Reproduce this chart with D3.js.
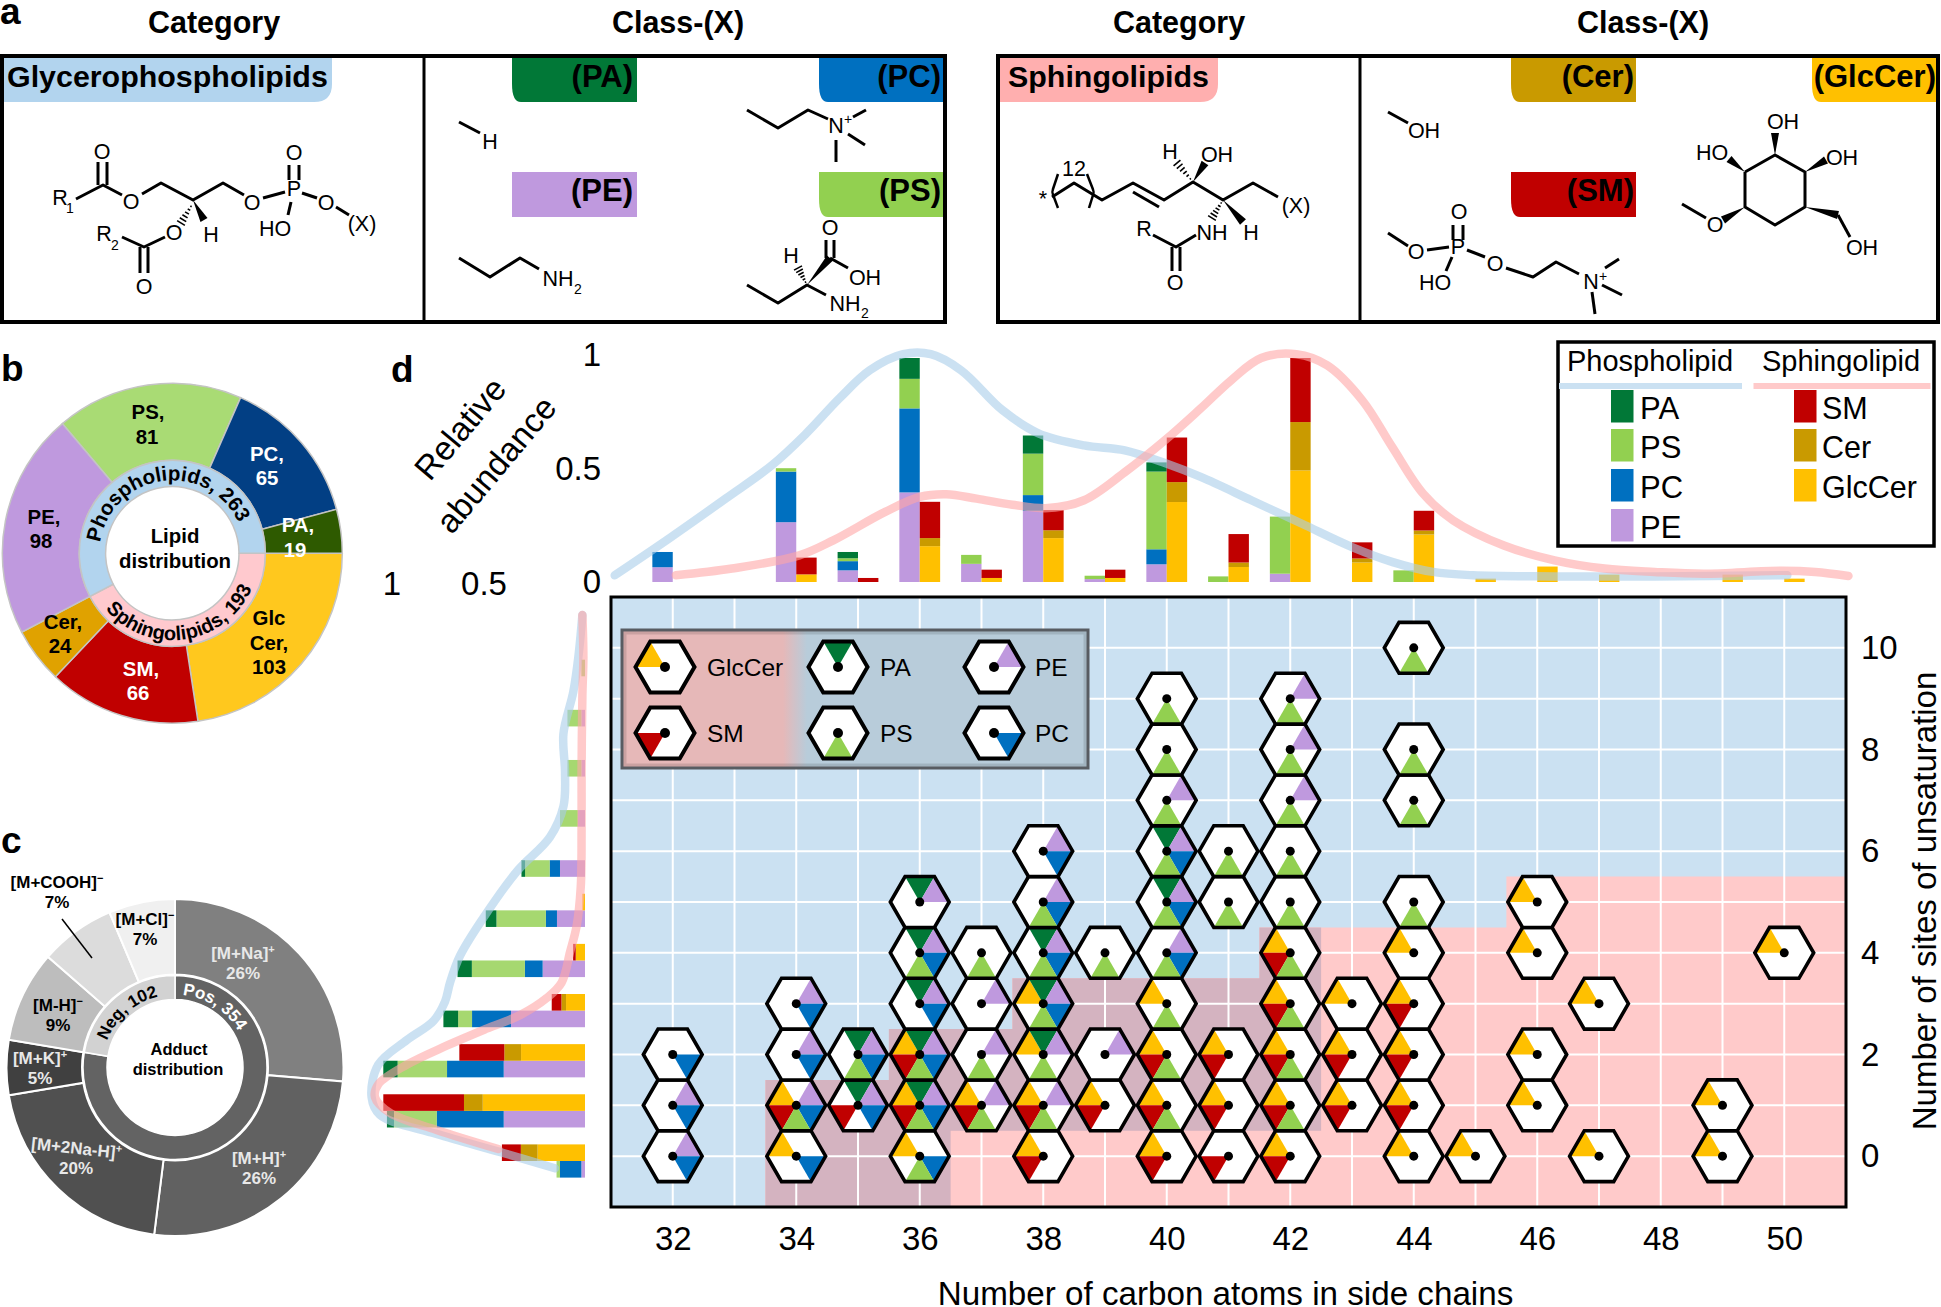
<!DOCTYPE html>
<html><head><meta charset="utf-8">
<script src="https://cdnjs.cloudflare.com/ajax/libs/d3/7.8.5/d3.min.js"></script>
<style>html,body{margin:0;background:#fff}svg{display:block}text{font-family:"Liberation Sans",Arial,sans-serif;fill:#000}</style>
</head><body><svg id="c" width="1941" height="1307"></svg>
<script>
// ---------- DATA ----------
const classColors = {G:"#ffc000",S:"#c00000",A:"#017837",E:"#bf99de",C:"#0070c0",P:"#92d050",Ce:"#c99a00"};
// panel b
const lipidNames = ["GlcCer","SM","Cer","PE","PS","PC","PA"];
const lipidCounts = [103,66,24,98,81,65,19];
const lipidFill = ["#ffc81e","#c00000","#e0a200","#bf99de","#a9db74","#023f84","#2e5a00"];
const lipidGroupCounts = [193,263];
const lipidGroupFill = ["#ffc9ce","#b2d4ee"];
// panel c
const adductCounts = [120,117,93,24,40,33,29];
const adductFill = ["#808080","#616161","#505050","#404040","#bdbdbd","#dcdcdc","#f0f0f0"];
const adductGroupCounts = [354,102];
const adductGroupFill = ["#636363","#d2d2d2"];
// panel d, hexagons: [carbons, classes present] per unsaturation row
const hexRow0 = [[32,"EC"],[34,"GC"],[36,"GCP"],[38,"GS"],[40,"GS"],[41,"S"],[42,"GS"],[44,"G"],[45,"G"],[47,"G"],[49,"G"]];
const hexRow1 = [[32,"EC"],[34,"GESCP"],[35,"AESC"],[36,"GAESCP"],[37,"GESP"],[38,"GESP"],[39,"GS"],[40,"GSP"],[41,"GS"],[42,"GSP"],[43,"GS"],[44,"GS"],[46,"G"],[49,"G"]];
const hexRow2 = [[32,"C"],[34,"EC"],[35,"AECP"],[36,"GAESCP"],[37,"EP"],[38,"GAEP"],[39,"E"],[40,"GSP"],[41,"GS"],[42,"GSP"],[43,"GS"],[44,"GS"],[46,"G"]];
const hexRow3 = [[34,"EC"],[36,"AEC"],[37,"E"],[38,"GAECP"],[40,"GP"],[42,"GSP"],[43,"G"],[44,"GS"],[47,"G"]];
const hexRow4 = [[36,"AECP"],[37,"P"],[38,"AECP"],[39,"P"],[40,"ECP"],[42,"GSP"],[44,"G"],[46,"G"],[50,"G"]];
const hexRow5 = [[36,"AE"],[38,"ECP"],[40,"AECP"],[41,"P"],[42,"P"],[44,"P"],[46,"G"]];
const hexRow6 = [[38,"EC"],[40,"AECP"],[41,"P"],[42,"P"]];
const hexRow7 = [[40,"EP"],[42,"EP"],[44,"P"]];
const hexRow8 = [[40,"P"],[42,"EP"],[44,"P"]];
const hexRow9 = [[40,"P"],[42,"EP"]];
const hexRow10 = [[44,"P"]];
const hexRows = [hexRow0,hexRow1,hexRow2,hexRow3,hexRow4,hexRow5,hexRow6,hexRow7,hexRow8,hexRow9,hexRow10];
// background regions in (carbons, unsaturation)
const sphingoRegion = [[51,5.5],[45.5,5.5],[45.5,4.5],[41.5,4.5],[41.5,3.5],[37.5,3.5],[37.5,2.5],[35.5,2.5],[35.5,1.5],[33.5,1.5],[33.5,-1],[51,-1]];
const overlapRegion = [[42.5,4.5],[41.5,4.5],[41.5,3.5],[37.5,3.5],[37.5,2.5],[35.5,2.5],[35.5,1.5],[33.5,1.5],[33.5,-1],[36.5,-1],[36.5,.5],[42.5,.5]];
// top bars
const topCarbons = [32,34,35,36,37,38,39,40,41,42,43,44,45,46,47,49,50];
const topPE  = [.066,.267,.052,.40,.081,.318,.013,.079,0,.037,0,0,0,0,0,0,0];
const topPC  = [.068,.226,.041,.375,0,.07,0,.067,0,0,0,0,0,0,0,0,0];
const topPS  = [0,.015,.013,.132,.04,.185,.015,.347,.025,.255,0,.052,0,0,0,0,0];
const topPA  = [0,0,.028,.093,0,.081,0,.041,0,0,0,0,0,0,0,0,0];
const topGlc = [0,.034,0,.16,.018,.196,.018,.357,.067,.498,.087,.212,.015,.069,.033,.033,.015];
const topCer = [0,0,0,.036,0,.035,0,.089,.02,.216,.018,.018,0,0,0,0,0];
const topSM  = [0,.075,.018,.162,.037,.09,.037,.199,.127,.286,.072,.088,0,0,0,0,0];
const topBlue = [[31.06,.03],[31.97,.20],[32.87,.375],[33.6,.52],[34.15,.66],[34.7,.82],[35.19,.945],[35.73,1.017],[36.18,1.017],[36.67,.945],[37.34,.767],[37.92,.664],[38.66,.61],[39.32,.588],[39.98,.53],[40.55,.469],[41.37,.365],[42.19,.26],[43,.156],[43.66,.089],[44.31,.045],[44.96,.03],[46.28,.025],[47.9,.025],[50.05,.03]];
const topPink = [[32.05,.03],[32.96,.06],[34.05,.119],[34.6,.186],[35.44,.313],[36,.38],[36.43,.392],[36.92,.372],[37.5,.345],[38.08,.33],[38.66,.365],[39.32,.49],[39.98,.635],[40.55,.775],[41.04,.9],[41.53,1],[42.1,1.017],[42.6,.967],[43.17,.81],[43.65,.603],[44.15,.395],[44.64,.275],[45.46,.163],[46.28,.097],[47.09,.06],[47.9,.045],[48.7,.037],[49.93,.05],[50.5,.045],[51.04,.027]];
// left bars
const leftRows = [0,1,2,3,4,5,6,7,8,9,10];
const leftPE  = [.018,.403,.403,.367,.21,.139,.124,.035,.018,.018,0];
const leftPC  = [.106,.332,.281,.193,.088,.055,.051,0,0,0,0];
const leftPS  = [.017,.212,.245,.069,.263,.245,.122,.089,.069,.069,.018];
const leftPA  = [0,.035,.071,.073,.071,.053,.018,0,0,0,0];
const leftGlc = [.235,.507,.317,.094,.046,.013,0,0,0,0,0];
const leftCer = [.083,.093,.083,.023,0,0,0,0,0,0,0];
const leftSM  = [.094,.4,.223,.048,.013,0,0,0,0,0,0];
const leftBlue = [[.149,-.145],[.405,.16],[.736,.54],[1.017,.92],[1.058,1.27],[1.025,1.92],[.884,2.41],[.752,2.79],[.694,3.18],[.669,3.56],[.62,4.09],[.504,4.85],[.339,5.77],[.174,6.46],[.107,7.07],[.099,7.76],[.107,8.52],[.058,9.36],[.033,10.05],[.013,10.89]];
const leftPink = [[.43,.24],[.736,.62],[.967,.96],[1.041,1.27],[1.025,1.53],[.884,1.92],[.686,2.3],[.488,2.64],[.322,2.91],[.19,3.25],[.116,3.56],[.074,4.17],[.041,4.7],[.021,5.47],[.017,6.6],[.017,7.76],[.013,9.28],[.008,10.05],[.013,10.89]];
// tick labels
const xTicks = [32,34,36,38,40,42,44,46,48,50];
const yTicks = [0,2,4,6,8,10];
const abundanceTicks = [0,.5,1];

// ---------- HELPERS ----------
const svg = d3.select("#c");
const deg = Math.PI/180;
function T(p,x,y,s,o={}){
  const t=p.append("text").attr("x",x).attr("y",y).text(s)
    .attr("font-size",o.fs||22).attr("text-anchor",o.a||"middle");
  if(o.b)t.attr("font-weight","bold");
  if(o.c)t.style("fill",o.c);
  if(o.tr)t.attr("transform",o.tr);
  return t;
}
function Tc(p,x,y,s,o={}){return T(p,x,y+(o.fs||22)*.36,s,o)}
function arcPathStr(cx,cy,r,a0,a1){
  const d=d3.path();
  d.arc(cx,cy,r,(a0-90)*deg,(a1-90)*deg,a1<a0);
  return d.toString();
}
function curvedText(p,id,cx,cy,r,a0,a1,s,fs,col){
  svg.select("defs").append("path").attr("id",id).attr("d",arcPathStr(cx,cy,r,a0,a1));
  p.append("text").attr("font-size",fs).attr("font-weight","bold").style("fill",col||"#000")
   .append("textPath").attr("href","#"+id).attr("startOffset","50%").attr("text-anchor","middle").text(s);
}
svg.append("defs");
// ---------- PANEL A ----------
const A = svg.append("g");
T(A,0,24,"a",{fs:37,b:1,a:"start"});
[[214,"Category"],[678,"Class-(X)"],[1179,"Category"],[1643,"Class-(X)"]].forEach(d=>T(A,d[0],33,d[1],{fs:30.5,b:1}));
function tag(x0,x1,y0,y1,col,corner){
  const r=18,d=d3.path();
  if(corner==="r"){d.moveTo(x0,y0);d.lineTo(x1,y0);d.lineTo(x1,y1-r);d.quadraticCurveTo(x1,y1,x1-r,y1);d.lineTo(x0,y1);}
  else if(corner==="l"){d.moveTo(x0,y0);d.lineTo(x1,y0);d.lineTo(x1,y1);d.lineTo(x0+r*.5,y1);d.quadraticCurveTo(x0,y1,x0,y1-r);}
  else {d.rect(x0,y0,x1-x0,y1-y0);}
  d.closePath();
  A.append("path").attr("d",d.toString()).style("fill",col);
}
const tagList=[[3,332,58,102,"#b2d4ee","r","Glycerophospholipids",7,"start",30.4],
 [512,637,58,102,"#017837","l","(PA)",633,"end",31],[819,943,58,102,"#0070c0","l","(PC)",941,"end",31],
 [512,637,172,217,"#bf99de","n","(PE)",633,"end",31],[819,943,172,217,"#92d050","l","(PS)",941,"end",31],
 [1000,1218,58,102,"#ffafaf","r","Sphingolipids",1008,"start",30.4],
 [1511,1636,58,102,"#c99a00","l","(Cer)",1634,"end",31],[1812,1938,58,102,"#ffc000","l","(GlcCer)",1936,"end",31],
 [1511,1636,172,217,"#c00000","l","(SM)",1634,"end",31]];
tagList.forEach(t=>{tag(t[0],t[1],t[2],t[3],t[4],t[5]);T(A,t[7],t[2]+29,t[6],{fs:t[9],b:1,a:t[8]});});
[[2,56,943,266],[998,56,940,266]].forEach(b=>A.append("rect").attr("x",b[0]).attr("y",b[1]).attr("width",b[2]).attr("height",b[3]).style("fill","none").style("stroke","#000").attr("stroke-width",4));
[424,1360].forEach(x=>A.append("line").attr("x1",x).attr("x2",x).attr("y1",56).attr("y2",322).style("stroke","#000").attr("stroke-width",3));
function bonds(list){list.forEach(l=>{A.append("polyline").attr("points",l.map(p=>p.join(",")).join(" ")).style("fill","none").style("stroke","#000").attr("stroke-width",3).attr("stroke-linejoin","round").attr("stroke-linecap","butt")})}
function wedge(x1,y1,x2,y2){const dx=x2-x1,dy=y2-y1,L=Math.hypot(dx,dy),nx=-dy/L*4,ny=dx/L*4;A.append("polygon").attr("points",`${x1},${y1} ${x2+nx},${y2+ny} ${x2-nx},${y2-ny}`).style("fill","#000")}
function hash(x1,y1,x2,y2){const dx=x2-x1,dy=y2-y1,L=Math.hypot(dx,dy),nx=-dy/L,ny=dx/L;for(let i=1;i<=6;i++){const f=i/6,w=f*4.5;A.append("line").attr("x1",x1+dx*f+nx*w).attr("y1",y1+dy*f+ny*w).attr("x2",x1+dx*f-nx*w).attr("y2",y1+dy*f-ny*w).style("stroke","#000").attr("stroke-width",1.6)}}
const chemLabels=[[60,197,"R"],[70,208,"1",14],[102,151,"O"],[131,201,"O"],[252,202,"O"],[294,188,"P"],[294,152,"O"],[326,202,"O"],[362,223,"(X)"],[275,228,"HO"],[211,234,"H"],[174,232,"O"],[144,286,"O"],[104,233,"R"],[115,245,"2",14],
 [490,141,"H"],[836,125,"N"],[848,119,"+",14],[558,278,"NH"],[578,289,"2",14],[830,227,"O"],[865,277,"OH"],[791,255,"H"],[845,303,"NH"],[865,313,"2",14],
 [1043,198,"*"],[1074,168,"12"],[1296,205,"(X)"],[1217,154,"OH"],[1170,151,"H"],[1251,232,"H"],[1212,232,"NH"],[1144,228,"R"],[1175,282,"O"],
 [1424,130,"OH"],[1783,121,"OH"],[1712,152,"HO"],[1842,157,"OH"],[1715,224,"O"],[1862,247,"OH"],
 [1416,251,"O"],[1458,246,"P"],[1459,211,"O"],[1495,263,"O"],[1591,281,"N"],[1603,276,"+",14],[1435,282,"HO"]];
chemLabels.forEach(l=>Tc(A,l[0],l[1],l[2],{fs:l[3]||21.5}));
bonds([
 [[76,199],[103,185],[122,195]],[[98,185],[98,162]],[[107,185],[107,162]],[[142,194],[161,183],[193,200],[223,183],[244,195]],
 [[263,198],[285,192]],[[289,180],[289,165]],[[299,180],[299,165]],[[302,193],[317,198]],[[336,207],[349,215]],[[291,202],[288,215]],
 [[165,237],[144,247],[122,237]],[[140,247],[140,273]],[[148,247],[148,273]],
 [[459,122],[480,133]],[[747,110],[778,128],[808,110],[828,119]],[[853,117],[866,110]],[[848,134],[865,145]],[[836,140],[836,162]],
 [[459,258],[490,277],[520,258],[539,269]],[[747,285],[778,303],[807,285],[826,295]],[[826,258],[826,240]],[[834,258],[834,240]],[[830,258],[848,268]],
 [[1052,197],[1074,183],[1102,200],[1133,183],[1164,200],[1193,182],[1223,200],[1253,183],[1278,197]],[[1133,192],[1159,207]],
 [[1196,235],[1176,247],[1153,235]],[[1172,247],[1172,271]],[[1180,247],[1180,271]],
 [[1388,112],[1408,123]],[[1745,172],[1775,155],[1805,172],[1805,207],[1775,225],[1745,207],[1745,172]],[[1706,218],[1682,204]],[[1838,215],[1850,237]],
 [[1388,233],[1408,246]],[[1427,250],[1449,247]],[[1453,240],[1453,225]],[[1463,240],[1463,225]],[[1467,250],[1485,257]],[[1506,268],[1533,277],[1556,262],[1579,274]],[[1605,268],[1619,259]],[[1602,285],[1622,295]],[[1592,292],[1595,314]],[[1452,257],[1446,271]]
]);
[[193,200,204,220],[807,285,830,258],[1193,182,1205,163],[1223,200,1243,222],[1775,155,1775,133],[1745,172,1729,159],[1805,172,1826,160],[1745,207,1723,220],[1805,207,1838,215]].forEach(w=>wedge(...w));
[[193,203,181,223],[807,285,798,268],[1193,182,1177,163],[1223,200,1212,218]].forEach(w=>hash(...w));
[[[1058,174],[1052,192],[1058,208]],[[1087,174],[1094,192],[1089,208]]].forEach(b=>A.append("path").attr("d",d3.line().curve(d3.curveBasis)([b[0],b[1],b[1],b[2]])).style("fill","none").style("stroke","#000").attr("stroke-width",2.5));

// ---------- PANEL B ----------
const B = svg.append("g");
T(B,1,381,"b",{fs:37,b:1,a:"start"});
const bc=[172.3,553.3];
const gB=B.append("g").attr("transform",`translate(${bc})`);
const pieB=d3.pie().sort(null).startAngle(Math.PI/2).endAngle(Math.PI/2+2*Math.PI);
gB.selectAll(".o").data(pieB(lipidCounts)).join("path").attr("d",d3.arc().innerRadius(93).outerRadius(170))
  .style("fill",(d,i)=>lipidFill[i]).style("stroke","#c4c4c4").attr("stroke-width",1.5);
gB.selectAll(".i").data(pieB(lipidGroupCounts)).join("path").attr("d",d3.arc().innerRadius(66.7).outerRadius(93))
  .style("fill",(d,i)=>lipidGroupFill[i]).style("stroke","#c4c4c4").attr("stroke-width",1.5);
const lipidLabels=[[148,412,"PS,"],[147,437,"81"],[267,454,"PC,","#fff"],[267,478,"65","#fff"],[298,525,"PA,","#fff"],[295,550,"19","#fff"],[44,517,"PE,"],[41,541,"98"],[63,622,"Cer,"],[60,646,"24"],[141,669,"SM,","#fff"],[138,693,"66","#fff"],[269,618,"Glc"],[269,643,"Cer,"],[269,667,"103"],[175,536,"Lipid"],[175,561,"distribution"]];
lipidLabels.forEach(l=>Tc(B,l[0],l[1],l[2],{fs:20.4,b:1,c:l[3]}));
curvedText(B,"arcP",bc[0],bc[1],73,-77,61,"Phospholipids, 263",20.5);
curvedText(B,"arcS",bc[0],bc[1],87,237,107,"Sphingolipids, 193",20);

// ---------- PANEL C ----------
const Cc = svg.append("g");
T(Cc,1,853,"c",{fs:37,b:1,a:"start"});
const cc=[175,1067.5];
const gC=Cc.append("g").attr("transform",`translate(${cc})`);
const pieC=d3.pie().sort(null);
gC.selectAll(".o").data(pieC(adductCounts)).join("path").attr("d",d3.arc().innerRadius(93).outerRadius(168.5))
  .style("fill",(d,i)=>adductFill[i]).style("stroke","#fff").attr("stroke-width",2);
gC.selectAll(".i").data(pieC(adductGroupCounts)).join("path").attr("d",d3.arc().innerRadius(68).outerRadius(92))
  .style("fill",(d,i)=>adductGroupFill[i]).style("stroke","#fff").attr("stroke-width",1.5);
function adduct(x,y,s,sup,pct,col,rot){
  const tr=rot?`rotate(${rot} ${x} ${y})`:null;
  const t=T(Cc,x,y,s,{fs:17,b:1,c:col,tr});
  t.append("tspan").attr("dy",-6).attr("font-size",11).text(sup);
  T(Cc,x,y+20,pct,{fs:17,b:1,c:col});
}
adduct(243,959,"[M+Na]","+","26%","#e8e8e8");
adduct(259,1164,"[M+H]","+","26%","#e8e8e8");
adduct(76,1154,"[M+2Na-H]","+","20%","#e8e8e8",6);
adduct(40,1064,"[M+K]","+","5%","#e8e8e8");
adduct(58,1011,"[M-H]","−","9%","#000");
adduct(145,925,"[M+Cl]","−","7%","#000");
adduct(57,888,"[M+COOH]","−","7%","#000");
Cc.append("line").attr("x1",62).attr("y1",919).attr("x2",92).attr("y2",958).style("stroke","#000").attr("stroke-width",1.5);
curvedText(Cc,"arcPos",cc[0],cc[1],73,8,58,"Pos, 354",17,"#fff");
curvedText(Cc,"arcNeg",cc[0],cc[1],73,-68,-14,"Neg, 102",17);
Tc(Cc,179,1049,"Adduct",{fs:16.5,b:1});Tc(Cc,178,1069,"distribution",{fs:16.5,b:1});

// ---------- PANEL D ----------
const D = svg.append("g");
T(D,391,382,"d",{fs:37,b:1,a:"start"});
const x = d3.scaleLinear().domain([31,51]).range([611,1846]);
const y = d3.scaleLinear().domain([-1,11]).range([1207,597]);
const topY = d3.scaleLinear().domain([0,1]).range([582,358]);
const topLabelBase = d3.scaleLinear().domain([0,1]).range([593.4,365.7]);
const leftX = d3.scaleLinear().domain([0,1]).range([585,383.3]);
const rowY = d3.scaleLinear().domain([0,10]).range([1161,659.7]);
const barW=20.4, barH=16.6;
// regions
const polyLine=d3.line().x(d=>x(d[0])).y(d=>y(d[1]));
D.append("rect").attr("x",x(31)).attr("y",y(11)).attr("width",x(51)-x(31)).attr("height",y(-1)-y(11)).style("fill","#cbe1f2");
D.append("path").attr("d",polyLine(sphingoRegion)+"Z").style("fill","#ffcaca");
D.append("path").attr("d",polyLine(overlapRegion)+"Z").style("fill","#d4b3c0");
d3.range(31,52).forEach(c=>D.append("line").attr("x1",x(c)).attr("x2",x(c)).attr("y1",y(-1)).attr("y2",y(11)).style("stroke","#fff").attr("stroke-width",2));
d3.range(0,11).forEach(u=>D.append("line").attr("x1",x(31)).attr("x2",x(51)).attr("y1",y(u)).attr("y2",y(u)).style("stroke","#fff").attr("stroke-width",2));
// hexagon glyphs: order of sides around the centre
const sectorOrder={G:[180,240],A:[240,300],E:[300,360],C:[0,60],P:[60,120],S:[120,180]};
function drawHex(p,cx,cy,R,sw,cls,dot){
  const g=p.append("g").attr("transform",`translate(${cx},${cy})`);
  const pts=d3.range(6).map(i=>[R*Math.cos(i*60*deg),R*Math.sin(i*60*deg)]);
  g.append("polygon").attr("points",pts.map(q=>q.join(",")).join(" ")).style("fill","#fff");
  cls.split("").forEach(k=>{
    const a=sectorOrder[k];
    g.append("polygon").attr("points",`0,0 ${R*Math.cos(a[0]*deg)},${R*Math.sin(a[0]*deg)} ${R*Math.cos(a[1]*deg)},${R*Math.sin(a[1]*deg)}`).style("fill",classColors[k]);
  });
  g.append("polygon").attr("points",pts.map(q=>q.join(",")).join(" ")).style("fill","none").style("stroke","#000").attr("stroke-width",sw);
  g.append("circle").attr("r",dot).style("fill","#000");
}
hexRows.forEach((row,u)=>row.forEach(d=>drawHex(D,x(d[0]),y(u),29.4,3.6,d[1],4.5)));
// inner legend
const grad=svg.select("defs").append("linearGradient").attr("id","lg").attr("gradientUnits","userSpaceOnUse").attr("x1",783).attr("x2",807).attr("y1",0).attr("y2",0);
grad.append("stop").attr("offset",0).attr("stop-color","#e6b8b8");grad.append("stop").attr("offset",1).attr("stop-color","#b8ccda");
D.append("rect").attr("x",622).attr("y",630).attr("width",466).attr("height",138).style("fill","url(#lg)").style("stroke","#585c62").attr("stroke-width",3);
D.append("rect").attr("x",625).attr("y",633).attr("width",460).attr("height",132).style("fill","none").style("stroke","#000").style("stroke-opacity",.12).attr("stroke-width",3);
const legendHex=[[665,667,"G","GlcCer",707],[665,733,"S","SM",707],[838,667,"A","PA",880],[838,733,"P","PS",880],[994,667,"E","PE",1035],[994,733,"C","PC",1035]];
legendHex.forEach(l=>{drawHex(D,l[0],l[1],29.5,4,l[2],5);Tc(D,l[4],l[1],l[3],{fs:24.5,a:"start"});});
// axes
const axB=D.append("g").attr("transform",`translate(0,${y(-1)})`).call(d3.axisBottom(x).tickValues(xTicks).tickSize(0).tickPadding(20));
const axR=D.append("g").attr("transform",`translate(${x(51)},0)`).call(d3.axisRight(y).tickValues(yTicks).tickSize(0).tickPadding(15));
[axB,axR].forEach(a=>{a.select(".domain").remove();a.selectAll("text").attr("font-size",33).style("font-family",'"Liberation Sans"');});
D.append("rect").attr("x",x(31)).attr("y",y(11)).attr("width",x(51)-x(31)).attr("height",y(-1)-y(11)).style("fill","none").style("stroke","#000").attr("stroke-width",3);
T(D,1225.5,1305,"Number of carbon atoms in side chains",{fs:33.2});
T(D,0,0,"Number of sites of unsaturation",{fs:33,tr:"translate(1936,901) rotate(-90)"});
T(D,0,0,"Relative",{fs:33.5,tr:"translate(469,436) rotate(-50)"});
T(D,0,0,"abundance",{fs:33.5,tr:"translate(505,472) rotate(-50)"});
abundanceTicks.forEach(v=>T(D,601,topLabelBase(v),v,{fs:33,a:"end"}));
Tc(D,392,583,"1",{fs:33});Tc(D,484,583,"0.5",{fs:33});
// top stacked bars
const stackCols=(names,cols)=>topCarbons.map((c,i)=>{const o={c};names.forEach((n,j)=>o[n]=cols[j][i]);return o;});
const plKeys=["E","C","P","A"], slKeys=["G","Ce","S"];
const stack=k=>d3.stack().keys(k);
const topPL=stackCols(plKeys,[topPE,topPC,topPS,topPA]), topSL=stackCols(slKeys,[topGlc,topCer,topSM]);
const topG=D.append("g");
stack(plKeys)(topPL).forEach(s=>topG.append("g").selectAll("rect").data(s).join("rect")
  .attr("x",d=>x(d.data.c)-barW).attr("width",barW).attr("y",d=>topY(d[1])).attr("height",d=>topY(d[0])-topY(d[1])).style("fill",classColors[s.key]));
stack(slKeys)(topSL).forEach(s=>topG.append("g").selectAll("rect").data(s).join("rect")
  .attr("x",d=>x(d.data.c)).attr("width",barW).attr("y",d=>topY(d[1])).attr("height",d=>topY(d[0])-topY(d[1])).style("fill",classColors[s.key]));
// left stacked bars
const leftCols=(names,cols)=>leftRows.map((r,i)=>{const o={r};names.forEach((n,j)=>o[n]=cols[j][i]);return o;});
const lPL=leftCols(plKeys,[leftPE,leftPC,leftPS,leftPA]), lSL=leftCols(slKeys,[leftGlc,leftCer,leftSM]);
stack(plKeys)(lPL).forEach(s=>topG.append("g").selectAll("rect").data(s).join("rect")
  .attr("y",d=>rowY(d.data.r)).attr("height",barH).attr("x",d=>leftX(d[1])).attr("width",d=>leftX(d[0])-leftX(d[1])).style("fill",classColors[s.key]).style("fill-opacity",s.key==="P"?.82:1));
stack(slKeys)(lSL).forEach(s=>topG.append("g").selectAll("rect").data(s).join("rect")
  .attr("y",d=>rowY(d.data.r)-barH).attr("height",barH).attr("x",d=>leftX(d[1])).attr("width",d=>leftX(d[0])-leftX(d[1])).style("fill",classColors[s.key]));
// density curves
const lineTop=d3.line().x(d=>x(d[0])).y(d=>topY(d[1])).curve(d3.curveCatmullRom.alpha(.5));
const lineLeft=d3.line().x(d=>leftX(d[0])).y(d=>rowY(d[1])).curve(d3.curveCatmullRom.alpha(.5));
const curveStyle=(p,col)=>p.style("fill","none").style("stroke",col).style("stroke-opacity",.6).attr("stroke-width",8.5).attr("stroke-linecap","round").attr("stroke-linejoin","round");
curveStyle(D.append("path").attr("d",lineTop(topBlue)),"#a8cde9");
curveStyle(D.append("path").attr("d",lineTop(topPink)),"#ffa7a7");
curveStyle(D.append("path").attr("d",lineLeft(leftBlue)),"#a8cde9");
curveStyle(D.append("path").attr("d",lineLeft(leftPink)),"#ffa7a7");
// top-right legend
D.append("rect").attr("x",1558).attr("y",342).attr("width",376).attr("height",204).style("fill","#fff").style("fill-opacity",0).style("stroke","#000").attr("stroke-width",3.5);
T(D,1567,371,"Phospholipid",{fs:29,a:"start"});T(D,1762,371,"Sphingolipid",{fs:29,a:"start"});
D.append("rect").attr("x",1559).attr("y",383).attr("width",183).attr("height",6).style("fill","#cbe1f2");
D.append("rect").attr("x",1753.5).attr("y",383).attr("width",177).attr("height",6).style("fill","#ffcaca");
const legendPL=[["A","PA",390],["P","PS",429],["C","PC",469],["E","PE",509]];
const legendSL=[["S","SM",390],["Ce","Cer",429],["G","GlcCer",469]];
legendPL.forEach(l=>{D.append("rect").attr("x",1611).attr("y",l[2]).attr("width",22.5).attr("height",32.5).style("fill",classColors[l[0]]);T(D,1640,l[2]+29,l[1],{fs:31,a:"start"});});
legendSL.forEach(l=>{D.append("rect").attr("x",1794).attr("y",l[2]).attr("width",22.5).attr("height",32.5).style("fill",classColors[l[0]]);T(D,1822,l[2]+29,l[1],{fs:30.5,a:"start"});});
</script></body></html>
